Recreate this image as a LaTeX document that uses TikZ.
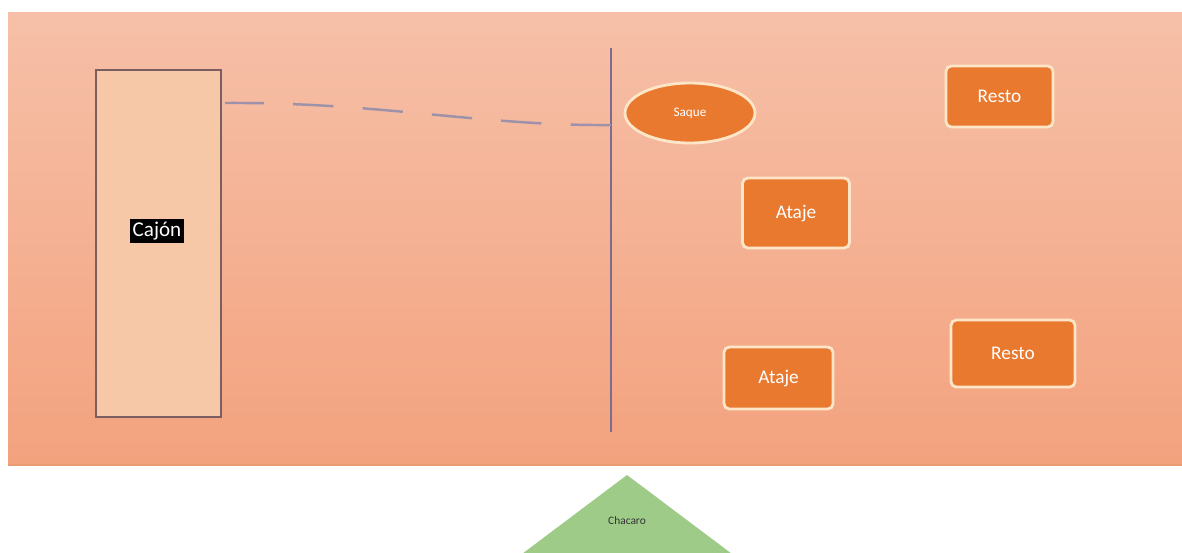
\documentclass[tikz,border=0pt]{standalone}
\usepackage{fontspec}
\setmainfont{Carlito}
\usepackage{tikz}
\usetikzlibrary{shapes.geometric}
\definecolor{bgtop}{HTML}{F6C0A8}
\definecolor{bgbot}{HTML}{F3A27E}
\definecolor{boxorange}{HTML}{E8792F}
\definecolor{cream}{HTML}{FDE6C8}
\definecolor{cajonfill}{HTML}{F7C8A8}
\definecolor{cajonline}{HTML}{7A5E60}
\definecolor{lineviolet}{HTML}{7E6C8E}
\definecolor{tri}{HTML}{9ECB88}
\tikzset{
  play/.style={draw=cream, line width=1.6pt, fill=boxorange, rounded corners=3pt, text=white, font=\fontsize{11}{13}\selectfont},
  cajonbox/.style={draw=cajonline, line width=0.9pt, fill=cajonfill, minimum width=2.5cm, minimum height=6.94cm}
}

\begin{document}
\begin{tikzpicture}[x=0.02cm, y=-0.02cm]
\useasboundingbox (0,0) rectangle (1182,552);
\clip (0,0) rectangle (1182,552);
\fill[white] (0,0) rectangle (1182,552);
\shade[top color=bgtop, bottom color=bgbot] (8,12) rectangle (1182,465);
\draw[bgbot!80!brown, line width=1pt] (8,465) -- (1182,465);
% cajon
\node[cajonbox] (cajon) at (158.5,243.5) {};
\node[fill=black, text=white, inner sep=1.5pt, font=\fontsize{12}{14}\selectfont] (cajonlbl) at (157,231) {Cajón};
% divider
\coordinate (divtop) at (611,48);
\coordinate (divbot) at (611,432);
\draw[lineviolet, line width=0.8pt] (divtop) -- (divbot);
\coordinate (dashA) at (225,103);
\coordinate (dashB) at (611,125);
\draw[lineviolet!75, line width=1.4pt, dash pattern=on 23pt off 16.6pt] (dashB) .. controls (480,126) and (380,102) .. (dashA);
% jugadas
\node[ellipse, draw=cream, line width=1.6pt, fill=boxorange, text=white, minimum width=2.6cm, minimum height=1.2cm, font=\fontsize{7.5}{9}\selectfont] (saque) at (690,113) {Saque};
\node[play, minimum width=2.14cm, minimum height=1.4cm] (ataje1) at (796,213) {Ataje};
\node[play, minimum width=2.14cm, minimum height=1.22cm] (resto1) at (999.5,96.5) {Resto};
\node[play, minimum width=2.18cm, minimum height=1.24cm] (ataje2) at (778.5,378) {Ataje};
\node[play, minimum width=2.48cm, minimum height=1.34cm] (resto2) at (1013,353.5) {Resto};
% chacaro
\fill[tri] (627,475) -- (760,575) -- (494,575) -- cycle;
\node[font=\fontsize{6.5}{8}\selectfont, text=black!80] (chacaro) at (627,521) {Chacaro};
\end{tikzpicture}
\end{document}
